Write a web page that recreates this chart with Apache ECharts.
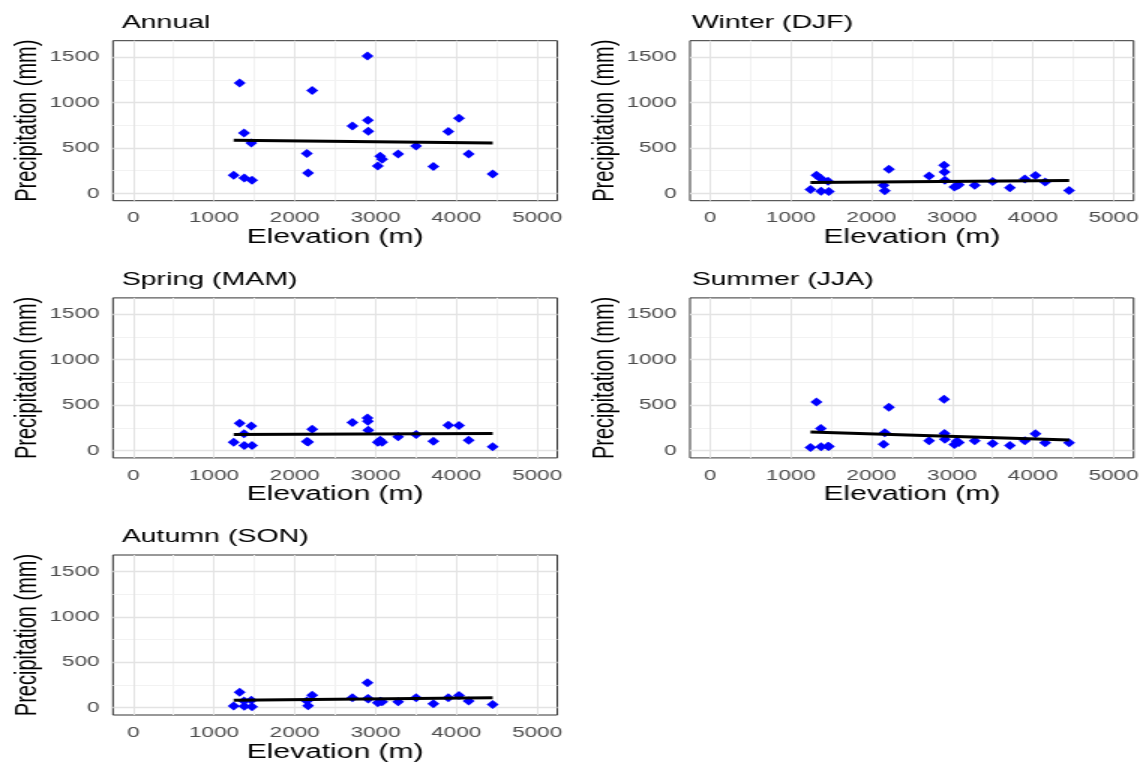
<!DOCTYPE html>
<html><head><meta charset="utf-8">
<script src="https://cdn.jsdelivr.net/npm/echarts@6/dist/echarts.min.js"></script>
<style>
html,body{margin:0;padding:0;background:#fff;overflow:hidden;width:1143px;height:765px}
#chart{width:762px;height:765px;transform:scaleX(1.5);transform-origin:0 0}
</style></head><body><div id="chart"></div>
<script>
// ---- data ----
const panelTitles = ['Annual', 'Winter (DJF)', 'Spring (MAM)', 'Summer (JJA)', 'Autumn (SON)'];
const elevation = [1244, 1318, 1372, 1375, 1462, 1471, 2150, 2165, 2216, 2714, 2900, 2905, 2910, 3028, 3057, 3082, 3280, 3502, 3716, 3901, 4033, 4153, 4450];
const annual = [201, 1215, 665, 171, 556, 146, 439, 226, 1131, 742, 1511, 805, 684, 303, 410, 377, 434, 523, 296, 681, 827, 435, 215];
const winter = [44, 201, 165, 25, 135, 20, 91, 29, 267, 193, 311, 237, 146, 70, 85, 95, 91, 132, 62, 160, 198, 127, 33];
const spring = [93, 302, 185, 57, 272, 57, 101, 95, 236, 309, 360, 324, 225, 93, 115, 93, 152, 178, 104, 280, 277, 115, 42];
const summer = [35, 536, 244, 42, 49, 45, 71, 196, 478, 108, 565, 189, 125, 68, 104, 90, 108, 79, 57, 108, 185, 86, 86];
const autumn = [18, 171, 73, 15, 83, 12, 73, 22, 138, 110, 274, 101, 95, 55, 70, 65, 66, 110, 44, 110, 135, 73, 36];
const fitElevation = [1244, 4450];
const fitAnnual = [585, 556];
const fitWinter = [120, 143];
const fitSpring = [178, 189];
const fitSummer = [205, 117];
const fitAutumn = [83, 110];
const xTicks = [0, 1000, 2000, 3000, 4000, 5000];
const xMinor = [500, 1500, 2500, 3500, 4500];
const yTicks = [0, 500, 1000, 1500];
const yMinor = [250, 750, 1250];
const xTitle = 'Elevation (m)';
const yTitle = 'Precipitation (mm)';

// ---- layout (picture is horizontally stretched) ----
const K = 1.5;
const FONT = '"Liberation Sans", Arial, Helvetica, sans-serif';
const colLeft = [113, 690], panelW = 444.3, titleOffset = [8.7, 1.7];
const rowTop = [40.7, 297.9, 555], panelH = 160;
const pos = [[0, 0], [1, 0], [0, 1], [1, 1], [0, 2]];
const values = [annual, winter, spring, summer, autumn];
const fits = [fitAnnual, fitWinter, fitSpring, fitSummer, fitAutumn];
const plain = v => String(v);

const grids = [], xAxes = [], yAxes = [], series = [], titles = [];
pos.forEach(([c, r], i) => {
  grids.push({
    left: colLeft[c] / K, top: rowTop[r], width: panelW / K, height: panelH,
    show: true, backgroundColor: '#fff', borderColor: '#333333', borderWidth: 1, z: 0
  });
  titles.push({
    text: panelTitles[i], left: (colLeft[c] + titleOffset[c]) / K, top: rowTop[r] - 27.5, padding: 0,
    textStyle: { fontFamily: FONT, fontSize: 19, fontWeight: 'normal', color: '#000' }
  });
  xAxes.push({
    type: 'value', gridIndex: i, min: -250, max: 5250,
    axisLine: { show: false },
    axisTick: { show: true, customValues: xTicks, length: 4, lineStyle: { color: '#333333', width: 1 } },
    axisLabel: { customValues: xTicks, formatter: plain, margin: 10, color: '#4d4d4d', fontSize: 15, fontFamily: FONT },
    splitLine: { show: false },
    name: xTitle, nameLocation: 'middle', nameGap: 27,
    nameTextStyle: { fontFamily: FONT, fontSize: 20, color: '#000' }
  });
  yAxes.push({
    type: 'value', gridIndex: i, min: -80, max: 1680,
    axisLine: { show: false },
    axisTick: { show: true, customValues: yTicks, length: 5, lineStyle: { color: '#333333', width: 1 } },
    axisLabel: { customValues: yTicks, formatter: plain, margin: 9, color: '#4d4d4d', fontSize: 15, fontFamily: FONT },
    splitLine: { show: false },
    name: yTitle, nameLocation: 'middle', nameGap: 47,
    nameTextStyle: { fontFamily: FONT, fontSize: 20, color: '#000' }
  });
  const gridLines = []
    .concat(xMinor.map(v => ({ xAxis: v, lineStyle: { color: '#f2f2f2', width: 1, type: 'solid' } })))
    .concat(yMinor.map(v => ({ yAxis: v, lineStyle: { color: '#f2f2f2', width: 1, type: 'solid' } })))
    .concat(xTicks.map(v => ({ xAxis: v, lineStyle: { color: '#e3e3e3', width: 1, type: 'solid' } })))
    .concat(yTicks.map(v => ({ yAxis: v, lineStyle: { color: '#e3e3e3', width: 1.3, type: 'solid' } })));
  series.push({
    type: 'scatter', xAxisIndex: i, yAxisIndex: i, data: [], z: 1, silent: true,
    markLine: { silent: true, symbol: 'none', label: { show: false }, z: 1, animation: false,
      emphasis: { disabled: true }, data: gridLines }
  });
  series.push({
    type: 'scatter', xAxisIndex: i, yAxisIndex: i, z: 3,
    symbol: 'diamond', symbolSize: [8, 9],
    itemStyle: { color: '#0000ff', opacity: 1 },
    data: elevation.map((e, j) => [e, values[i][j]])
  });
  series.push({
    type: 'line', xAxisIndex: i, yAxisIndex: i, z: 4, showSymbol: false, symbol: 'none',
    lineStyle: { color: '#000', width: 3 },
    data: fitElevation.map((e, j) => [e, fits[i][j]])
  });
});

const chart = echarts.init(document.getElementById('chart'), null, { renderer: 'canvas' });
chart.setOption({
  animation: false,
  backgroundColor: '#fff',
  title: titles,
  grid: grids,
  xAxis: xAxes,
  yAxis: yAxes,
  series: series
});
</script></body></html>
